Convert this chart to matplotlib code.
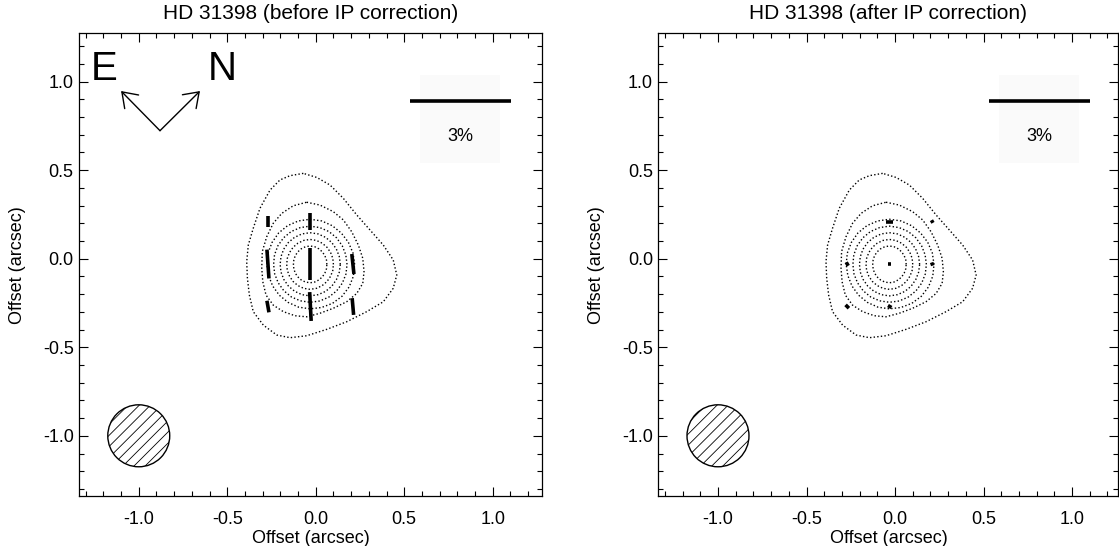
import numpy as np
import matplotlib
matplotlib.use("Agg")
import matplotlib.pyplot as plt
from matplotlib.patches import Circle, Rectangle

plt.rcParams['font.family'] = ['Liberation Sans', 'DejaVu Sans']
plt.rcParams['axes.unicode_minus'] = False
plt.rcParams['hatch.linewidth'] = 0.6

# panel titles
titles = ['HD 31398 (before IP correction)', 'HD 31398 (after IP correction)']

# polarization vector grid (arcsec)
vec_x = [-0.27, -0.03, 0.21]
vec_y = [0.21, -0.03, -0.27]
# polarization degree (%) and angle (deg, counter-clockwise from up), rows follow vec_y
pol_before = [[0.30, 0.49, np.nan],
              [0.86, 0.94, 0.60],
              [0.35, 0.86, 0.50]]
ang_before = [[0, 0, 0],
              [4, 0, 6],
              [10, 3, 5]]
pol_after = [[np.nan, 0.20, 0.09],
             [0.12, 0.08, 0.10],
             [0.14, 0.12, np.nan]]
ang_after = [[0, 90, 30],
             [30, 90, 20],
             [45, 60, 0]]

# intensity contours: inner rings as radii (arcsec) every 15 deg around the peak
peak = (-0.032, -0.032)
ring_angles = np.arange(0, 360, 15)
inner_rings = [
    [0.095, 0.096, 0.097, 0.099, 0.101, 0.103, 0.104, 0.103, 0.101, 0.099, 0.097, 0.095,
     0.094, 0.095, 0.097, 0.099, 0.101, 0.103, 0.104, 0.103, 0.101, 0.099, 0.097, 0.096],
    [0.132, 0.133, 0.134, 0.136, 0.138, 0.140, 0.141, 0.140, 0.138, 0.136, 0.134, 0.133,
     0.132, 0.133, 0.134, 0.136, 0.138, 0.140, 0.141, 0.140, 0.138, 0.136, 0.134, 0.133],
    [0.171, 0.171, 0.172, 0.174, 0.176, 0.178, 0.179, 0.178, 0.176, 0.174, 0.172, 0.170,
     0.169, 0.170, 0.171, 0.173, 0.175, 0.177, 0.178, 0.177, 0.176, 0.174, 0.172, 0.171],
    [0.209, 0.209, 0.210, 0.212, 0.214, 0.215, 0.216, 0.215, 0.214, 0.212, 0.210, 0.208,
     0.206, 0.207, 0.208, 0.210, 0.212, 0.213, 0.214, 0.214, 0.213, 0.212, 0.211, 0.210],
    [0.252, 0.251, 0.250, 0.250, 0.252, 0.254, 0.255, 0.254, 0.253, 0.251, 0.248, 0.246,
     0.244, 0.243, 0.244, 0.246, 0.248, 0.250, 0.251, 0.252, 0.254, 0.255, 0.255, 0.254],
]
# second-outermost contour, traced vertices (arcsec)
ring6_x = [-0.051, 0.024, 0.099, 0.156, 0.203, 0.241, 0.266, 0.273, 0.266, 0.232, 0.175, 0.099,
           0.024, -0.051, -0.117, -0.183, -0.240, -0.281, -0.299, -0.305, -0.302, -0.277, -0.240,
           -0.192, -0.127]
ring6_y = [0.319, 0.303, 0.266, 0.219, 0.153, 0.077, 0.002, -0.073, -0.139, -0.196, -0.243, -0.280,
           -0.308, -0.328, -0.322, -0.299, -0.262, -0.205, -0.130, -0.054, 0.040, 0.124, 0.200,
           0.256, 0.299]
# outermost contour, traced vertices (arcsec)
outer_x = [-0.070, -0.145, -0.202, -0.258, -0.315, -0.353, -0.381, -0.390, -0.386, -0.375, -0.353,
           -0.296, -0.220, -0.145, -0.051, 0.062, 0.175, 0.288, 0.382, 0.438, 0.458, 0.438, 0.382,
           0.307, 0.232, 0.156, 0.081, 0.006]
outer_y = [0.482, 0.469, 0.445, 0.388, 0.285, 0.172, 0.077, -0.017, -0.111, -0.205, -0.299,
           -0.375, -0.431, -0.446, -0.435, -0.399, -0.356, -0.299, -0.243, -0.167, -0.092, -0.007,
           0.077, 0.162, 0.247, 0.341, 0.416, 0.459]

# beam
beam_xy = (-1.0, -1.0)
beam_r = 0.175
# scale bar
bar_pct = 3.0
bar_x0, bar_x1, bar_y = 0.533, 1.102, 0.889

ticks = [-1.0, -0.5, 0.0, 0.5, 1.0]

fig = plt.figure(figsize=(11.19, 5.46), dpi=100)
ax1 = fig.add_axes([79.3 / 1119, 50 / 546, 462.4 / 1119, 462.7 / 546])
ax2 = fig.add_axes([658.5 / 1119, 50 / 546, 459.8 / 1119, 462.7 / 546])
xlims = [(-1.336, 1.277), (-1.336, 1.261)]

dotted = (0, (1.0, 1.6))
scale = (bar_x1 - bar_x0) / bar_pct  # arcsec per percent

for k, (ax, pol, ang) in enumerate([(ax1, pol_before, ang_before), (ax2, pol_after, ang_after)]):
    ax.set_xlim(*xlims[k])
    ax.set_ylim(-1.34, 1.273)

    # contours
    th = np.deg2rad(np.append(ring_angles, ring_angles[0]))
    for r in inner_rings:
        rr = np.append(r, r[0])
        ax.plot(peak[0] + rr * np.cos(th), peak[1] + rr * np.sin(th),
                color='black', lw=1.0, linestyle=dotted)
    for xs, ys in [(ring6_x, ring6_y), (outer_x, outer_y)]:
        ax.plot(xs + xs[:1], ys + ys[:1], color='black', lw=1.0, linestyle=dotted)

    # polarization vectors
    for i, yv in enumerate(vec_y):
        for j, xv in enumerate(vec_x):
            p = pol[i][j]
            if np.isnan(p):
                continue
            a = np.deg2rad(ang[i][j])
            h = p * scale / 2
            dx, dy = -h * np.sin(a), h * np.cos(a)
            ax.plot([xv - dx, xv + dx], [yv - dy, yv + dy], color='black', lw=2.6,
                    solid_capstyle='butt')

    # beam
    ax.add_patch(Circle(beam_xy, beam_r, facecolor='none', edgecolor='black', lw=1.0,
                        hatch='///'))

    # scale bar
    ax.add_patch(Rectangle((0.589, 0.539), 0.452, 0.499, facecolor='#fafafa',
                           edgecolor='none', zorder=0))
    ax.plot([bar_x0, bar_x1], [bar_y, bar_y], color='black', lw=2.6, solid_capstyle='butt')
    ax.text(0.817, 0.693, '%d%%' % bar_pct, ha='center', va='center', fontsize=13)

    ax.set_xticks(ticks)
    ax.set_yticks(ticks)
    ax.set_xticklabels(['%.1f' % t for t in ticks])
    ax.set_yticklabels(['%.1f' % t for t in ticks])
    ax.set_xticks(np.arange(-1.3, 1.3, 0.1), minor=True)
    ax.set_yticks(np.arange(-1.3, 1.3, 0.1), minor=True)
    ax.tick_params(which='both', direction='in', top=True, right=True, width=0.8,
                   labelsize=13)
    ax.tick_params(axis='x', which='major', pad=11)
    ax.tick_params(axis='y', which='major', pad=4)
    ax.tick_params(which='major', length=6.5)
    ax.tick_params(which='minor', length=3.3)
    for s in ax.spines.values():
        s.set_linewidth(0.9)
    ax.set_xlabel('Offset (arcsec)', fontsize=13, labelpad=1)
    ax.set_ylabel('Offset (arcsec)', fontsize=13, labelpad=12)
    ax.set_title(titles[k], fontsize=15, pad=10)

# orientation arrows
origin = (-0.88, 0.723)
arrow_style = dict(arrowstyle='->,head_length=0.5,head_width=0.35', lw=1.0,
                   shrinkA=0, shrinkB=0, mutation_scale=20, color='black')
ax1.annotate('', xy=(-1.10, 0.947), xytext=origin, arrowprops=arrow_style)
ax1.annotate('', xy=(-0.654, 0.947), xytext=origin, arrowprops=arrow_style)
ax1.text(-1.195, 1.07, 'E', fontsize=29, ha='center', va='center')
ax1.text(-0.526, 1.07, 'N', fontsize=29, ha='center', va='center')

fig.savefig('out.png', dpi=100)
